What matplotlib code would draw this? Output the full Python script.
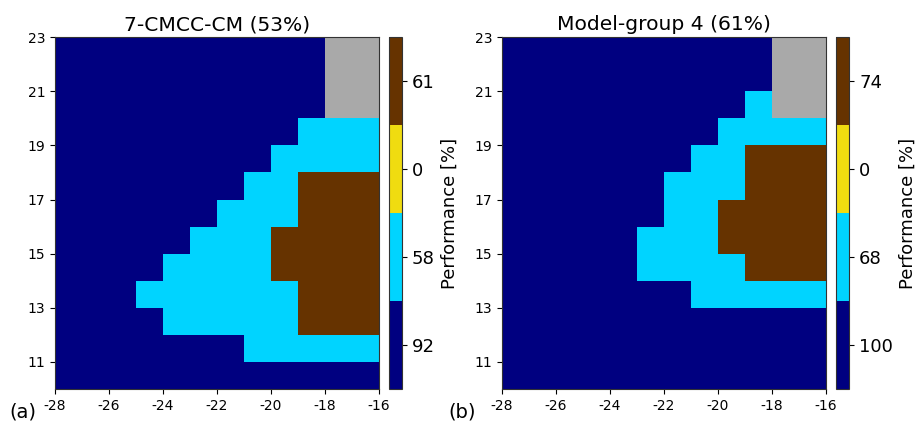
import numpy as np
import matplotlib
matplotlib.use("Agg")
import matplotlib.pyplot as plt
from matplotlib.colors import ListedColormap, BoundaryNorm

plt.rcParams["axes.unicode_minus"] = False

# grid edges (lon, lat)
lon_edges = np.arange(-28, -15, 1)
lat_edges = np.arange(10, 24, 1)

# category codes: 0 navy, 1 cyan, 2 yellow, 3 brown, 9 = no data
# rows listed from top (lat 22-23) down to bottom (lat 10-11)
N = 9
grid_a = [
    [0, 0, 0, 0, 0, 0, 0, 0, 0, 0, N, N],
    [0, 0, 0, 0, 0, 0, 0, 0, 0, 0, N, N],
    [0, 0, 0, 0, 0, 0, 0, 0, 0, 0, N, N],
    [0, 0, 0, 0, 0, 0, 0, 0, 0, 1, 1, 1],
    [0, 0, 0, 0, 0, 0, 0, 0, 1, 1, 1, 1],
    [0, 0, 0, 0, 0, 0, 0, 1, 1, 3, 3, 3],
    [0, 0, 0, 0, 0, 0, 1, 1, 1, 3, 3, 3],
    [0, 0, 0, 0, 0, 1, 1, 1, 3, 3, 3, 3],
    [0, 0, 0, 0, 1, 1, 1, 1, 3, 3, 3, 3],
    [0, 0, 0, 1, 1, 1, 1, 1, 1, 3, 3, 3],
    [0, 0, 0, 0, 1, 1, 1, 1, 1, 3, 3, 3],
    [0, 0, 0, 0, 0, 0, 0, 1, 1, 1, 1, 1],
    [0, 0, 0, 0, 0, 0, 0, 0, 0, 0, 0, 0],
]
grid_b = [
    [0, 0, 0, 0, 0, 0, 0, 0, 0, 0, N, N],
    [0, 0, 0, 0, 0, 0, 0, 0, 0, 0, N, N],
    [0, 0, 0, 0, 0, 0, 0, 0, 0, 1, N, N],
    [0, 0, 0, 0, 0, 0, 0, 0, 1, 1, 1, 1],
    [0, 0, 0, 0, 0, 0, 0, 1, 1, 3, 3, 3],
    [0, 0, 0, 0, 0, 0, 1, 1, 1, 3, 3, 3],
    [0, 0, 0, 0, 0, 0, 1, 1, 3, 3, 3, 3],
    [0, 0, 0, 0, 0, 1, 1, 1, 3, 3, 3, 3],
    [0, 0, 0, 0, 0, 1, 1, 1, 1, 3, 3, 3],
    [0, 0, 0, 0, 0, 0, 0, 1, 1, 1, 1, 1],
    [0, 0, 0, 0, 0, 0, 0, 0, 0, 0, 0, 0],
    [0, 0, 0, 0, 0, 0, 0, 0, 0, 0, 0, 0],
    [0, 0, 0, 0, 0, 0, 0, 0, 0, 0, 0, 0],
]

titles = ["7-CMCC-CM (53%)", "Model-group 4 (61%)"]
perf_a = ["92", "58", "0", "61"]
perf_b = ["100", "68", "0", "74"]
panel_tags = ["(a)", "(b)"]

cmap = ListedColormap(["#000080", "#00d4ff", "#f0dc10", "#663300"])
cmap.set_bad("#a9a9a9")
norm = BoundaryNorm(np.arange(-0.5, 4.5, 1), cmap.N)

fig = plt.figure(figsize=(9.2, 4.25), dpi=100)
ax_pos = [[0.0598, 0.0847, 0.352, 0.828], [0.5457, 0.0847, 0.352, 0.828]]
cb_pos = [[0.4228, 0.0847, 0.0145, 0.828], [0.9087, 0.0847, 0.0145, 0.828]]
tag_x = [0.010, 0.487]

for k, (grid, title, perf) in enumerate(zip([grid_a, grid_b], titles, [perf_a, perf_b])):
    ax = fig.add_axes(ax_pos[k])
    data = np.array(grid, dtype=float)[::-1]
    data = np.ma.masked_where(data == N, data)
    mesh = ax.pcolormesh(lon_edges, lat_edges, data, cmap=cmap, norm=norm)
    ax.set_xlim(-28, -16)
    ax.set_ylim(10, 23)
    ax.set_xticks(np.arange(-28, -15, 2))
    ax.set_yticks(np.arange(11, 24, 2))
    ax.tick_params(labelsize=10)
    ax.set_title(title, fontsize=14.6, pad=5)
    for s in ax.spines.values():
        s.set_color("#333333")

    cax = fig.add_axes(cb_pos[k])
    cb = fig.colorbar(mesh, cax=cax, ticks=[0, 1, 2, 3])
    cb.minorticks_off()
    cb.ax.set_yticklabels(perf)
    cb.ax.tick_params(labelsize=13)
    cb.set_label("Performance [%]", fontsize=13)
    cb.outline.set_edgecolor("#333333")

    fig.text(tag_x[k], 0.018, panel_tags[k], fontsize=14)

plt.savefig("out.png", dpi=100)
plt.close()
